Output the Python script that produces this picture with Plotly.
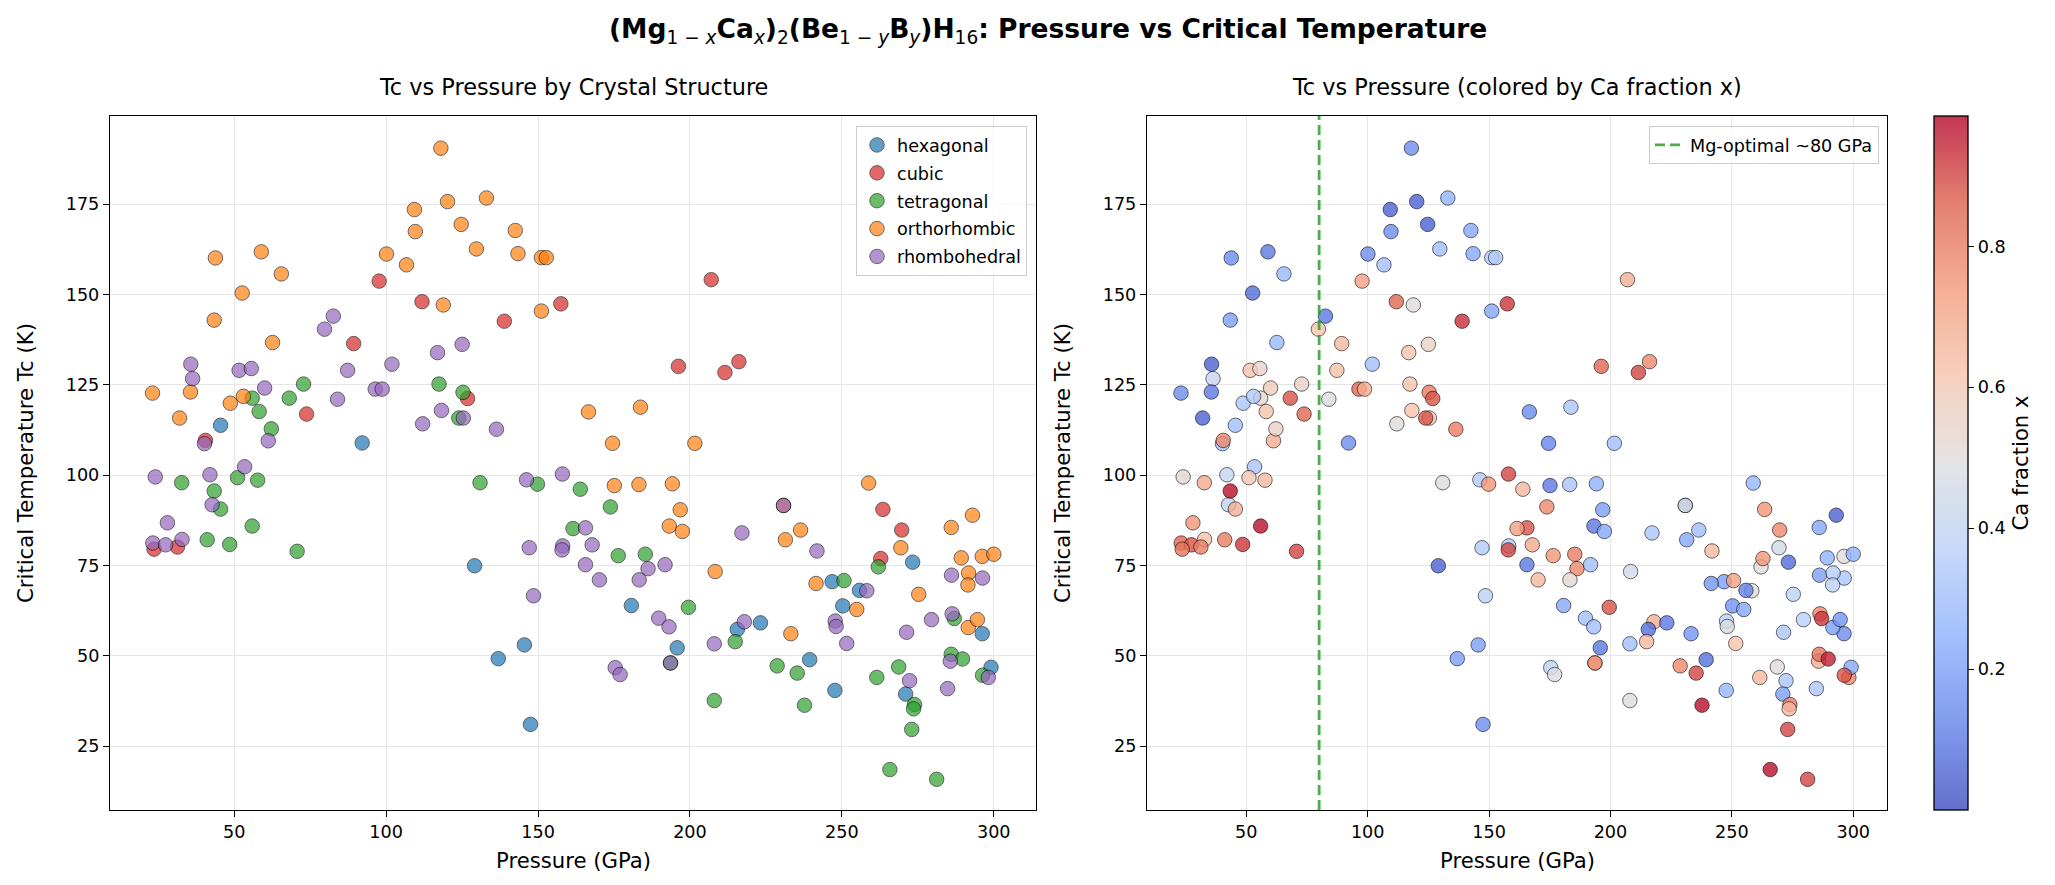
import plotly.graph_objects as go

# values (pressure in GPa, Tc in K, Ca fraction x)
hex_p = [45.5, 92.1, 129.1, 180.7, 215.6, 223.2, 195.8, 145.5, 136.9, 147.5,
         273.3, 246.8, 255.8, 250.3, 296.2, 239.4, 247.7, 271.0, 299.1]
hex_tc = [113.8, 108.9, 74.9, 63.9, 57.3, 59.1, 52.2, 53.0, 49.2, 31.0,
          75.9, 70.5, 68.1, 63.8, 56.1, 48.9, 40.4, 39.4, 46.8]
hex_x = [0.30, 0.15, 0.05, 0.22, 0.08, 0.10, 0.10, 0.20, 0.20, 0.15,
         0.07, 0.20, 0.12, 0.17, 0.15, 0.08, 0.27, 0.20, 0.22]

cub_p = [89.3, 97.7, 111.8, 157.5, 138.9, 207.0, 73.8, 40.5, 23.6, 31.3,
         196.2, 216.1, 211.5, 126.8, 263.5, 269.7, 262.8]
cub_tc = [136.4, 153.7, 148.0, 147.4, 142.6, 154.1, 116.9, 109.6, 79.5, 80.1,
          130.1, 131.4, 128.4, 121.2, 90.5, 84.8, 76.9]
cub_x = [0.65, 0.72, 0.85, 0.92, 0.93, 0.68, 0.85, 0.78, 0.82, 0.80,
         0.85, 0.78, 0.90, 0.88, 0.75, 0.78, 0.75]

tet_p = [55.9, 58.2, 68.1, 72.8, 62.2, 32.7, 51.1, 57.7, 43.4, 45.5,
         55.9, 41.1, 48.5, 70.7, 117.4, 125.3, 123.9, 130.9, 149.8, 163.9,
         173.8, 161.5, 176.4, 185.3, 199.5, 214.9, 193.6, 228.7, 235.3, 208.0,
         237.7, 262.0, 250.7, 287.0, 261.5, 268.7, 273.9, 273.6, 273.0, 286.0,
         289.7, 296.3, 265.8, 281.2]
tet_tc = [121.3, 117.6, 121.3, 125.2, 112.8, 97.9, 99.3, 98.6, 95.6, 90.6,
          85.9, 82.1, 80.8, 78.9, 125.2, 122.9, 115.8, 97.9, 97.5, 96.1,
          91.2, 85.2, 77.7, 78.1, 63.4, 53.9, 48.0, 47.2, 45.2, 37.6,
          36.3, 74.6, 70.8, 60.3, 44.0, 46.9, 36.5, 35.3, 29.6, 50.4,
          49.1, 44.6, 18.5, 15.8]
tet_x = [0.53, 0.62, 0.88, 0.55, 0.55, 0.70, 0.60, 0.65, 0.97, 0.68,
         0.97, 0.80, 0.92, 0.90, 0.62, 0.80, 0.88, 0.50, 0.75, 0.65,
         0.78, 0.72, 0.75, 0.80, 0.88, 0.65, 0.78, 0.78, 0.90, 0.50,
         0.97, 0.50, 0.72, 0.92, 0.65, 0.50, 0.80, 0.65, 0.90, 0.82,
         0.95, 0.88, 0.97, 0.90]

ort_p = [118.0, 43.8, 58.9, 65.5, 52.6, 43.4, 62.6, 109.3, 109.6, 100.1,
         106.7, 118.8, 120.2, 133.0, 124.7, 142.5, 129.7, 143.4, 151.1, 152.7,
         151.1, 23.1, 35.6, 32.0, 48.7, 53.0, 166.6, 183.7, 174.5, 201.6,
         175.1, 183.2, 194.2, 196.8, 193.2, 197.5, 230.8, 231.4, 208.3, 233.2,
         258.8, 236.4, 269.4, 286.0, 293.0, 289.3, 296.2, 300.0, 291.7, 291.5,
         241.5, 275.3, 254.9, 291.6, 294.6]
ort_tc = [190.5, 160.1, 161.8, 155.7, 150.4, 142.9, 136.7, 173.5, 167.4, 161.2,
          158.2, 147.1, 175.7, 176.7, 169.4, 167.7, 162.6, 161.3, 160.2, 160.2,
          145.4, 122.7, 123.0, 115.8, 119.9, 121.8, 117.5, 118.8, 108.8, 108.8,
          97.1, 97.4, 97.6, 90.4, 85.9, 84.4, 91.6, 82.1, 73.3, 56.1,
          97.8, 84.8, 79.9, 85.5, 88.9, 77.1, 77.5, 78.1, 72.9, 69.6,
          70.0, 67.0, 62.8, 57.8, 60.0]
ort_x = [0.15, 0.15, 0.10, 0.28, 0.07, 0.20, 0.28, 0.05, 0.15, 0.15,
         0.30, 0.50, 0.05, 0.25, 0.05, 0.22, 0.30, 0.22, 0.35, 0.35,
         0.22, 0.15, 0.10, 0.05, 0.33, 0.35, 0.15, 0.33, 0.13, 0.30,
         0.10, 0.32, 0.25, 0.20, 0.10, 0.22, 0.50, 0.22, 0.45, 0.17,
         0.27, 0.30, 0.45, 0.22, 0.05, 0.25, 0.50, 0.25, 0.36, 0.38,
         0.17, 0.38, 0.22, 0.20, 0.17]

rho_p = [82.6, 79.7, 125.0, 116.9, 35.7, 36.3, 51.6, 55.6, 60.0, 61.2,
         40.2, 84.0, 87.3, 101.9, 96.4, 98.7, 112.0, 24.0, 42.0, 53.4,
         42.7, 28.0, 23.2, 27.4, 32.8, 118.2, 125.4, 136.3, 146.2, 158.0,
         230.8, 217.1, 165.6, 147.1, 158.1, 157.9, 167.8, 165.6, 186.2, 191.8,
         170.2, 183.3, 148.5, 189.7, 193.1, 217.9, 208.0, 175.4, 177.0, 193.6,
         241.8, 286.1, 296.3, 258.2, 247.8, 248.1, 251.6, 271.3, 279.5, 286.3,
         285.7, 284.8, 272.3, 298.2]
rho_tc = [144.0, 140.4, 136.2, 133.9, 130.7, 126.7, 129.0, 129.5, 124.1, 109.5,
          108.7, 121.0, 129.0, 130.7, 123.8, 123.8, 114.2, 99.5, 100.1, 102.3,
          91.8, 86.8, 81.2, 80.7, 82.2, 117.9, 115.8, 112.7, 98.7, 100.3,
          91.6, 84.0, 85.4, 79.9, 80.4, 79.3, 80.7, 75.2, 74.1, 75.2,
          71.0, 71.0, 66.6, 60.4, 58.0, 59.4, 53.3, 46.7, 44.8, 48.0,
          79.0, 72.3, 71.5, 68.0, 59.6, 58.1, 53.4, 56.5, 60.0, 61.6,
          48.5, 40.9, 43.1, 44.0]
rho_x = [0.10, 0.62, 0.55, 0.62, 0.05, 0.42, 0.62, 0.55, 0.58, 0.68,
         0.30, 0.48, 0.63, 0.30, 0.85, 0.68, 0.50, 0.53, 0.42, 0.32,
         0.40, 0.75, 0.85, 0.88, 0.62, 0.62, 0.60, 0.80, 0.35, 0.90,
         0.15, 0.33, 0.88, 0.35, 0.35, 0.90, 0.70, 0.10, 0.78, 0.30,
         0.65, 0.52, 0.38, 0.30, 0.30, 0.68, 0.30, 0.38, 0.48, 0.60,
         0.65, 0.20, 0.33, 0.50, 0.38, 0.48, 0.62, 0.33, 0.37, 0.78,
         0.68, 0.33, 0.33, 0.78]

mg_optimal = 80

W, H = 2055, 885
FONT = 'DejaVu Sans'


def px(v):
    return v / W


def py(v):
    return 1 - v / H


structures = [
    ('hexagonal', hex_p, hex_tc, '#1f77b4'),
    ('cubic', cub_p, cub_tc, '#d62728'),
    ('tetragonal', tet_p, tet_tc, '#2ca02c'),
    ('orthorhombic', ort_p, ort_tc, '#ff7f0e'),
    ('rhombohedral', rho_p, rho_tc, '#9467bd'),
]

# matplotlib "coolwarm" drawn with alpha 0.8
cw = [(59, 76, 192), (98, 130, 234), (141, 176, 254), (184, 208, 249),
      (221, 221, 221), (245, 196, 173), (244, 154, 123), (222, 96, 77),
      (180, 4, 38)]
coolwarm = [[i / 8, 'rgba(%d,%d,%d,0.8)' % c] for i, c in enumerate(cw)]

fig = go.Figure()

for name, p, tc, col in structures:
    fig.add_trace(go.Scatter(
        x=p, y=tc, mode='markers', name=name, legendgroup=name,
        marker=dict(size=14.5, color=col, opacity=0.7,
                    line=dict(color='black', width=0.8)),
        xaxis='x', yaxis='y'))

# right panel: all points, coloured by Ca fraction
all_p = rho_p + hex_p + tet_p + cub_p + ort_p
all_tc = rho_tc + hex_tc + tet_tc + cub_tc + ort_tc
all_x = rho_x + hex_x + tet_x + cub_x + ort_x

fig.add_trace(go.Scatter(
    x=all_p, y=all_tc, mode='markers', showlegend=False,
    marker=dict(size=14.5, color=all_x, colorscale=coolwarm, cmin=0.0, cmax=0.985,
                line=dict(color='rgba(0,0,0,0.7)', width=0.8),
                colorbar=dict(x=px(1926), xanchor='left', xpad=0,
                              y=py(802), yanchor='bottom', ypad=0,
                              len=(802 - 108) / H, lenmode='fraction',
                              thickness=34, outlinecolor='black', outlinewidth=1.3,
                              tickvals=[0.2, 0.4, 0.6, 0.8], tickformat='.1f',
                              ticks='outside', ticklen=6, tickwidth=1.3,
                              tickcolor='black',
                              tickfont=dict(family=FONT, size=17.6, color='black'),
                              title=dict(text='Ca fraction x', side='right',
                                         font=dict(family=FONT, size=21.2,
                                                   color='black')))),
    xaxis='x2', yaxis='y2'))

fig.add_shape(type='line', xref='x2', yref='y2 domain', x0=mg_optimal, x1=mg_optimal,
              y0=0, y1=1, line=dict(color='rgba(44,160,44,0.85)', width=2.8,
                                    dash='10px,5px'),
              showlegend=True, legend='legend2', name='Mg-optimal ~80 GPa')

axis_common = dict(showline=True, mirror=True, linecolor='black', linewidth=1.3,
                   ticks='outside', ticklen=6, tickwidth=1.3, tickcolor='black',
                   showgrid=True, gridcolor='#e6e6e6', gridwidth=1.3,
                   zeroline=False,
                   tickfont=dict(family=FONT, size=17.6, color='black'))
xr = [9.1, 313.9]
yr = [7.3, 199.4]
xt = [50, 100, 150, 200, 250, 300]
yt = [25, 50, 75, 100, 125, 150, 175]

fig.update_layout(
    width=W, height=H, autosize=False,
    margin=dict(l=0, r=0, t=0, b=0),
    paper_bgcolor='white', plot_bgcolor='white',
    font=dict(family=FONT, color='black'),
    xaxis=dict(domain=[px(102), px(1028)], range=xr, tickvals=xt, anchor='y',
               **axis_common),
    yaxis=dict(domain=[py(802), py(108)], range=yr, tickvals=yt, anchor='x',
               **axis_common),
    xaxis2=dict(domain=[px(1139), px(1879)], range=xr, tickvals=xt, anchor='y2',
                **axis_common),
    yaxis2=dict(domain=[py(802), py(108)], range=yr, tickvals=yt, anchor='x2',
                **axis_common),
    legend=dict(x=px(1019), xanchor='right', y=py(118), yanchor='top',
                bgcolor='rgba(255,255,255,0.8)', bordercolor='#cccccc',
                borderwidth=1, tracegroupgap=2,
                font=dict(family=FONT, size=17.6, color='black')),
    legend2=dict(x=px(1871), xanchor='right', y=py(118), yanchor='top',
                 bgcolor='rgba(255,255,255,0.8)', bordercolor='#cccccc',
                 borderwidth=1,
                 font=dict(family=FONT, size=17.6, color='black')),
)


def sub(s):
    return '<sub><span style="font-weight:normal">%s</span></sub>' % s


title = ('<b>(Mg' + sub('1 − <i>x</i>') + 'Ca' + sub('<i>x</i>') + ')' + sub('2') +
         '(Be' + sub('1 − <i>y</i>') + 'B' + sub('<i>y</i>') + ')H' + sub('16') +
         ': Pressure vs Critical Temperature</b>')
annos = [
    dict(text=title, x=px(1040), y=py(23), font=dict(size=26.5)),
    dict(text='Tc vs Pressure by Crystal Structure', x=px(565), y=py(79),
         font=dict(size=22.4)),
    dict(text='Tc vs Pressure (colored by Ca fraction x)', x=px(1509), y=py(79),
         font=dict(size=22.4)),
    dict(text='Pressure (GPa)', x=px(565), y=py(852), font=dict(size=21.2)),
    dict(text='Pressure (GPa)', x=px(1509), y=py(852), font=dict(size=21.2)),
    dict(text='Critical Temperature Tc (K)', x=px(17), y=py(455), textangle=-90,
         font=dict(size=21.2)),
    dict(text='Critical Temperature Tc (K)', x=px(1054), y=py(455), textangle=-90,
         font=dict(size=21.2)),
]
for a in annos:
    a['font'].update(family=FONT, color='black')
    fig.add_annotation(xref='paper', yref='paper', showarrow=False,
                       xanchor='center', yanchor='middle', **a)

fig.write_html('out.html')
